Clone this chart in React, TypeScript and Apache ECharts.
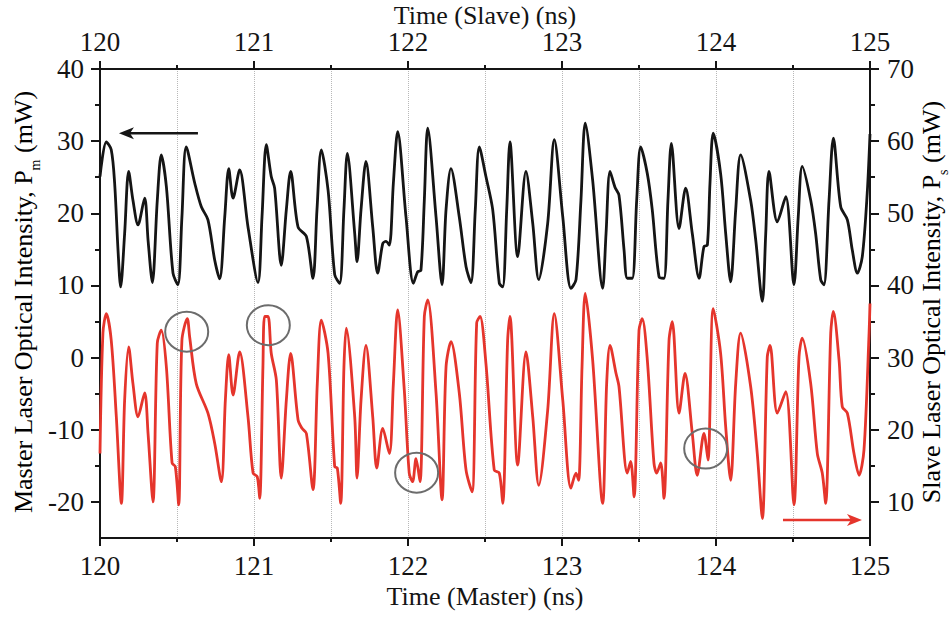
import { useEffect, useRef } from 'react';
import * as echarts from 'echarts';

// ---- Data (time in ns, power in mW) ----
const masterTime = [
  120.000, 120.041, 120.073, 120.095, 120.117, 120.134, 120.160, 120.186, 120.214, 120.247,
  120.290, 120.312, 120.340, 120.372, 120.398, 120.431, 120.474, 120.506, 120.532, 120.560,
  120.615, 120.658, 120.701, 120.745, 120.777, 120.810, 120.836, 120.864, 120.907, 120.961,
  121.026, 121.052, 121.080, 121.112, 121.134, 121.177, 121.210, 121.238, 121.286, 121.340,
  121.383, 121.409, 121.437, 121.481, 121.524, 121.556, 121.584, 121.606, 121.654, 121.669,
  121.695, 121.727, 121.771, 121.803, 121.836, 121.857, 121.879, 121.905, 121.933, 121.987,
  122.035, 122.063, 122.084, 122.106, 122.128, 122.182, 122.221, 122.247, 122.279, 122.333,
  122.377, 122.409, 122.437, 122.463, 122.506, 122.550, 122.593, 122.615, 122.641, 122.662,
  122.712, 122.766, 122.810, 122.849, 122.907, 122.950, 123.005, 123.058, 123.091, 123.123,
  123.151, 123.199, 123.264, 123.286, 123.312, 123.344, 123.370, 123.403, 123.424, 123.456,
  123.485, 123.511, 123.554, 123.586, 123.630, 123.662, 123.688, 123.710, 123.760, 123.803,
  123.846, 123.890, 123.922, 123.944, 123.961, 123.982, 124.030, 124.063, 124.095, 124.128,
  124.160, 124.225, 124.258, 124.301, 124.323, 124.344, 124.398, 124.453, 124.506, 124.534,
  124.560, 124.615, 124.647, 124.680, 124.701, 124.734, 124.762, 124.810, 124.853, 124.885,
  124.918, 124.950, 124.982, 125.000,
];
const masterPower = [
  25.1, 29.9, 28.8, 24.2, 14.9, 9.8, 17.2, 25.8, 21.8, 18.4,
  22.1, 16.3, 10.4, 21.8, 28.1, 23.7, 11.7, 10.1, 19.5, 29.2,
  24.2, 20.9, 19.1, 13.5, 10.9, 19.5, 26.2, 22.1, 26.0, 18.1,
  10.4, 19.5, 29.5, 25.1, 23.5, 12.8, 20.5, 25.8, 18.1, 16.8,
  11.0, 20.5, 28.8, 23.2, 11.5, 10.3, 20.5, 28.3, 17.2, 13.3,
  20.5, 27.2, 18.1, 11.7, 15.8, 16.1, 15.6, 24.2, 31.3, 19.5,
  10.3, 11.9, 12.1, 21.8, 31.8, 19.5, 10.1, 20.5, 26.2, 19.5,
  12.6, 10.4, 20.5, 29.2, 25.1, 20.5, 10.3, 9.8, 20.5, 29.9,
  14.0, 25.8, 18.6, 10.8, 18.6, 30.2, 19.5, 9.6, 10.8, 21.8,
  32.5, 24.6, 9.6, 17.2, 25.8, 23.6, 22.5, 14.9, 11.0, 11.0,
  21.8, 29.2, 25.5, 20.5, 11.2, 11.0, 21.8, 29.7, 17.9, 23.5,
  17.2, 11.0, 15.4, 15.6, 24.2, 31.1, 25.5, 17.2, 10.5, 20.5,
  28.1, 21.8, 16.3, 7.8, 17.2, 25.8, 18.8, 22.3, 10.1, 19.5,
  26.5, 21.8, 17.2, 10.8, 10.1, 21.8, 30.4, 20.9, 19.1, 14.9,
  11.7, 14.0, 22.8, 31.0,
];

const slaveTime = [
  120.000, 120.019, 120.041, 120.073, 120.106, 120.139, 120.160, 120.186, 120.214, 120.247,
  120.290, 120.312, 120.344, 120.372, 120.398, 120.431, 120.468, 120.489, 120.511, 120.532,
  120.567, 120.582, 120.625, 120.701, 120.745, 120.788, 120.814, 120.836, 120.864, 120.907,
  120.961, 120.994, 121.021, 121.037, 121.058, 121.069, 121.091, 121.112, 121.145, 121.177,
  121.210, 121.238, 121.286, 121.312, 121.340, 121.383, 121.411, 121.437, 121.481, 121.524,
  121.541, 121.563, 121.584, 121.599, 121.654, 121.669, 121.695, 121.727, 121.771, 121.797,
  121.836, 121.879, 121.905, 121.933, 121.976, 122.008, 122.030, 122.052, 122.078, 122.106,
  122.128, 122.182, 122.221, 122.247, 122.279, 122.333, 122.377, 122.416, 122.446, 122.468,
  122.506, 122.560, 122.593, 122.615, 122.647, 122.662, 122.712, 122.766, 122.810, 122.849,
  122.907, 122.950, 123.005, 123.058, 123.091, 123.108, 123.130, 123.151, 123.199, 123.264,
  123.290, 123.312, 123.351, 123.370, 123.424, 123.446, 123.468, 123.500, 123.521, 123.554,
  123.597, 123.615, 123.641, 123.662, 123.695, 123.716, 123.760, 123.799, 123.846, 123.878,
  123.922, 123.948, 123.982, 124.030, 124.063, 124.095, 124.128, 124.160, 124.225, 124.268,
  124.301, 124.333, 124.351, 124.398, 124.453, 124.506, 124.539, 124.560, 124.615, 124.658,
  124.690, 124.712, 124.745, 124.762, 124.799, 124.820, 124.853, 124.896, 124.929, 124.961,
  124.994, 125.000,
];
const slavePower = [
  16.7, 33.4, 36.1, 32.4, 21.8, 9.8, 24.1, 31.5, 26.4, 21.8,
  25.1, 19.5, 10.0, 32.0, 33.8, 28.7, 15.4, 14.9, 9.6, 32.4,
  35.4, 32.9, 26.4, 22.3, 18.1, 12.8, 24.1, 30.4, 24.8, 30.8,
  21.8, 14.0, 13.5, 10.5, 28.7, 35.7, 35.7, 30.6, 26.9, 13.3,
  24.1, 30.6, 21.4, 20.2, 19.5, 11.7, 26.4, 35.2, 30.6, 14.9,
  14.7, 9.8, 28.7, 34.1, 21.8, 13.3, 24.1, 31.7, 21.8, 14.7,
  20.2, 16.7, 26.4, 36.6, 25.5, 14.0, 12.8, 16.0, 12.8, 35.7,
  38.0, 25.1, 10.3, 28.7, 32.2, 25.1, 14.4, 11.4, 34.8, 35.7,
  29.2, 14.4, 14.0, 9.8, 32.4, 35.7, 15.1, 30.8, 21.8, 12.3,
  22.7, 36.1, 24.1, 11.9, 14.0, 13.0, 28.7, 38.9, 29.7, 9.8,
  26.4, 31.7, 27.8, 26.0, 14.0, 15.6, 10.7, 33.8, 35.4, 29.7,
  15.4, 14.0, 15.4, 10.5, 32.4, 35.0, 22.3, 27.8, 19.5, 13.7,
  19.5, 15.8, 36.8, 30.6, 20.4, 13.0, 26.4, 33.4, 26.0, 16.7,
  7.7, 30.1, 31.7, 22.3, 25.3, 9.6, 30.1, 32.7, 26.4, 16.7,
  14.0, 9.8, 33.4, 36.4, 29.7, 23.2, 22.3, 16.7, 13.7, 17.2,
  33.4, 37.5,
];

// ---- Axis ticks ----
const timeRange = [120, 125];
const leftRange = [-25, 40];
const rightRange = [5, 70];
const leftMajorTicks = [-20, -10, 0, 10, 20, 30, 40];
const leftMinorTicks = [-15, -5, 5, 15, 25, 35];
const rightMajorTicks = [10, 20, 30, 40, 50, 60, 70];
const rightMinorTicks = [15, 25, 35, 45, 55, 65];

// ---- Annotations (slave coordinates for circles) ----
const circleTime = [120.563, 121.093, 122.056, 123.933];
const circlePower = [33.6, 34.5, 14.05, 17.4];
const masterArrowTime = [120.636, 120.123];
const masterArrowPower = 31.1;
const slaveArrowTime = [124.435, 124.948];
const slaveArrowPower = 7.5;

const FONT = 'Liberation Serif';
const INK = '#151515';
const TEXT = '#141414';
const RED = '#e5352c';

export default function App() {
  const ref = useRef<HTMLDivElement>(null);

  useEffect(() => {
    document.body.style.margin = '0';
    const chart = echarts.init(ref.current!, null, { renderer: 'svg' });
    const lineStyle = { color: INK, width: 2 };
    const labelBase = { fontFamily: FONT, fontSize: 27, color: TEXT };

    const xBase = (pos: 'top' | 'bottom', grid: boolean) => ({
      type: 'value',
      position: pos,
      min: timeRange[0],
      max: timeRange[1],
      interval: 1,
      axisLine: { show: true, onZero: false, lineStyle },
      axisTick: { show: true, length: 8, lineStyle },
      minorTick: { show: true, splitNumber: 2, length: 4, lineStyle },
      axisLabel: { ...labelBase, margin: 14 },
      splitLine: { show: grid, lineStyle: { type: 'dotted', color: '#b8b8b8', width: 1 } },
      minorSplitLine: { show: grid, lineStyle: { type: 'dotted', color: '#b8b8b8', width: 1 } },
    });

    const yMajor = (pos: 'left' | 'right', range: number[], ticks: number[], margin: number) => ({
      type: 'value',
      position: pos,
      min: range[0],
      max: range[1],
      axisLine: { show: true, onZero: false, lineStyle },
      axisTick: { show: true, length: 9, lineStyle, customValues: ticks },
      axisLabel: { ...labelBase, margin, customValues: ticks },
      splitLine: { show: false },
    });
    const yMinor = (pos: 'left' | 'right', range: number[], ticks: number[]) => ({
      type: 'value',
      position: pos,
      min: range[0],
      max: range[1],
      axisLine: { show: false, onZero: false },
      axisTick: { show: true, length: 5, lineStyle, customValues: ticks },
      axisLabel: { show: false },
      splitLine: { show: false },
    });

    const option: any = {
      animation: false,
      backgroundColor: '#fff',
      textStyle: { fontFamily: FONT },
      grid: { left: 100, top: 69, width: 770, height: 469, containLabel: false },
      xAxis: [xBase('bottom', true), xBase('top', false)],
      yAxis: [
        yMajor('left', leftRange, leftMajorTicks, 16),
        yMajor('right', rightRange, rightMajorTicks, 17),
        yMinor('left', leftRange, leftMinorTicks),
        yMinor('right', rightRange, rightMinorTicks),
      ],
      series: [
        {
          name: 'Master',
          type: 'line',
          xAxisIndex: 0,
          yAxisIndex: 0,
          data: masterTime.map((t, i) => [t, masterPower[i]]),
          showSymbol: false,
          smooth: 0.3,
          lineStyle: { color: INK, width: 2.8 },
          z: 3,
        },
        {
          name: 'Slave',
          type: 'line',
          xAxisIndex: 1,
          yAxisIndex: 1,
          data: slaveTime.map((t, i) => [t, slavePower[i]]),
          showSymbol: false,
          smooth: 0.3,
          lineStyle: { color: RED, width: 2.8 },
          z: 2,
        },
      ],
    };
    chart.setOption(option);

    const toM = (t: number, v: number) => chart.convertToPixel({ seriesIndex: 0 }, [t, v]) as number[];
    const toS = (t: number, v: number) => chart.convertToPixel({ seriesIndex: 1 }, [t, v]) as number[];

    const graphics: any[] = [];
    circleTime.forEach((t, i) => {
      const [cx, cy] = toS(t, circlePower[i]);
      graphics.push({
        type: 'ellipse',
        shape: { cx, cy, rx: 21.5, ry: 20 },
        style: { fill: 'none', stroke: '#6c6c6c', lineWidth: 2 },
        z: 10,
      });
    });

    const [ma0x, ma0y] = toM(masterArrowTime[0], masterArrowPower);
    const [ma1x] = toM(masterArrowTime[1], masterArrowPower);
    graphics.push({
      type: 'line',
      shape: { x1: ma0x, y1: ma0y, x2: ma1x + 10, y2: ma0y },
      style: { stroke: INK, lineWidth: 2.6 },
      z: 10,
    });
    graphics.push({
      type: 'polygon',
      shape: { points: [[ma1x, ma0y], [ma1x + 15, ma0y - 6], [ma1x + 11, ma0y], [ma1x + 15, ma0y + 6]] },
      style: { fill: INK },
      z: 10,
    });

    const [sa0x, sa0y] = toS(slaveArrowTime[0], slaveArrowPower);
    const [sa1x] = toS(slaveArrowTime[1], slaveArrowPower);
    graphics.push({
      type: 'line',
      shape: { x1: sa0x, y1: sa0y, x2: sa1x - 10, y2: sa0y },
      style: { stroke: RED, lineWidth: 2.6 },
      z: 10,
    });
    graphics.push({
      type: 'polygon',
      shape: { points: [[sa1x, sa0y], [sa1x - 15, sa0y - 6], [sa1x - 11, sa0y], [sa1x - 15, sa0y + 6]] },
      style: { fill: RED },
      z: 10,
    });

    const titleStyle = { fontFamily: FONT, fontSize: 26, fill: TEXT };
    const rich = {
      n: { fontFamily: FONT, fontSize: 26, lineHeight: 28, color: TEXT },
      sub: { fontFamily: FONT, fontSize: 14, lineHeight: 14, padding: [24, 0, 0, 0], color: TEXT },
    };
    graphics.push({
      type: 'text',
      x: 485,
      y: 15,
      style: { ...titleStyle, text: 'Time (Slave) (ns)', align: 'center', verticalAlign: 'middle' },
    });
    graphics.push({
      type: 'text',
      x: 485,
      y: 596,
      style: { ...titleStyle, text: 'Time (Master) (ns)', align: 'center', verticalAlign: 'middle' },
    });
    graphics.push({
      type: 'text',
      x: 23,
      y: 302,
      rotation: Math.PI / 2,
      style: {
        text: '{n|Master Laser Optical Intensity, P}{sub|m}{n| (mW)}',
        rich,
        align: 'center',
        verticalAlign: 'middle',
      },
    });
    graphics.push({
      type: 'text',
      x: 931,
      y: 302,
      rotation: Math.PI / 2,
      style: {
        text: '{n|Slave Laser Optical Intensity, P}{sub|s}{n| (mW)}',
        rich,
        align: 'center',
        verticalAlign: 'middle',
      },
    });

    chart.setOption({ graphic: graphics });

    return () => chart.dispose();
  }, []);

  return (
    <div
      ref={ref}
      style={{ position: 'absolute', left: 0, top: 0, width: 952, height: 619, background: '#fff' }}
    />
  );
}
